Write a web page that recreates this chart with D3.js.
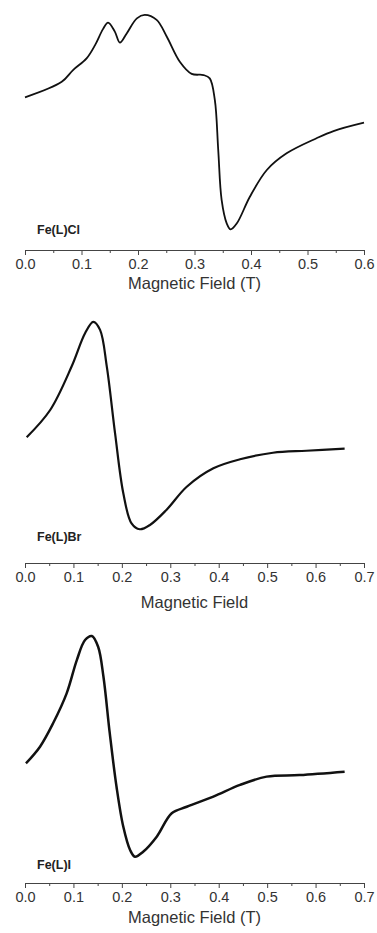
<!DOCTYPE html>
<html>
<head>
<meta charset="utf-8">
<script src="https://cdn.jsdelivr.net/npm/d3@7"></script>
<style>
  body { margin: 0; background: #fff; }
  svg { display: block; }
  .tick text { font-family: "Liberation Sans", Arial, sans-serif; }
</style>
</head>
<body>
<svg id="epr" width="377" height="933"></svg>
<script>
// field values (T) and derivative signal (arb. units, 0..100)
var clField  = [0.0, 0.065, 0.085, 0.109, 0.124, 0.138, 0.147, 0.159, 0.168, 0.18, 0.198, 0.212, 0.233, 0.251, 0.274, 0.295, 0.316, 0.327, 0.336, 0.342, 0.348, 0.357, 0.364, 0.375, 0.398, 0.428, 0.463, 0.516, 0.546, 0.6];
var clSignal = [61.2, 68.1, 73.3, 78.5, 84.4, 91.5, 94.4, 90.4, 85.5, 89.6, 96.3, 97.8, 95.6, 88.1, 77.0, 71.6, 71.1, 69.6, 60.0, 37.8, 15.6, 5.2, 2.5, 5.2, 17.0, 28.9, 36.3, 43.0, 46.2, 49.9];

var brField  = [0.0035, 0.052, 0.096, 0.124, 0.141, 0.155, 0.169, 0.186, 0.203, 0.22, 0.237, 0.258, 0.292, 0.334, 0.389, 0.444, 0.512, 0.581, 0.66];
var brSignal = [47.9, 60.0, 79.2, 94.1, 99.2, 95.6, 79.2, 49.6, 23.0, 9.6, 7.0, 8.9, 15.6, 25.9, 34.1, 38.1, 41.0, 41.9, 42.8];

var iField  = [0.002, 0.031, 0.058, 0.086, 0.107, 0.124, 0.138, 0.151, 0.162, 0.175, 0.189, 0.203, 0.217, 0.227, 0.244, 0.272, 0.303, 0.334, 0.389, 0.444, 0.499, 0.567, 0.66];
var iSignal = [47.4, 54.8, 65.2, 78.5, 93.3, 102.2, 104.0, 99.2, 85.9, 60.8, 37.0, 19.2, 8.9, 5.9, 8.1, 14.8, 25.2, 28.1, 32.6, 37.8, 41.5, 42.2, 43.7];

var ticks06 = [0, 0.1, 0.2, 0.3, 0.4, 0.5, 0.6];
var ticks07 = [0, 0.1, 0.2, 0.3, 0.4, 0.5, 0.6, 0.7];
var minor06 = [0.05, 0.15, 0.25, 0.35, 0.45, 0.55];
var minor07 = [0.05, 0.15, 0.25, 0.35, 0.45, 0.55, 0.65];

var panels = [
  {name: "Fe(L)Cl", field: clField, signal: clSignal, xmax: 0.6, ticks: ticks06, minor: minor06,
   title: "Magnetic Field (T)", axisY: 250, top: 10, bottom: 235, labelY: 234, titleY: 289, lw: 1.8},
  {name: "Fe(L)Br", field: brField, signal: brSignal, xmax: 0.7, ticks: ticks07, minor: minor07,
   title: "Magnetic Field", axisY: 563, top: 320, bottom: 545, labelY: 541, titleY: 608, lw: 2.2},
  {name: "Fe(L)I", field: iField, signal: iSignal, xmax: 0.7, ticks: ticks07, minor: minor07,
   title: "Magnetic Field (T)", axisY: 883, top: 645, bottom: 870, labelY: 869, titleY: 923, lw: 2.5}
];

var svg = d3.select("#epr");
var left = 25, right = 364;

panels.forEach(function(p){
  var x = d3.scaleLinear().domain([0, p.xmax]).range([left, right]);
  var y = d3.scaleLinear().domain([0, 100]).range([p.bottom, p.top]);
  var g = svg.append("g");

  var line = d3.line()
    .x(function(d){ return x(d[0]); })
    .y(function(d){ return y(d[1]); })
    .curve(d3.curveCatmullRom.alpha(0.5));

  g.append("path")
    .datum(d3.zip(p.field, p.signal))
    .attr("d", line)
    .attr("fill", "none")
    .attr("stroke", "#111")
    .attr("stroke-width", p.lw)
    .attr("stroke-linejoin", "round");

  // minor ticks first, then major axis with labels
  g.append("g")
    .attr("transform", "translate(0," + p.axisY + ")")
    .call(d3.axisBottom(x).tickValues(p.minor).tickSize(3).tickSizeOuter(0).tickFormat(""))
    .call(function(a){ a.select(".domain").remove(); a.selectAll("line").attr("stroke", "#444"); });

  var ax = g.append("g")
    .attr("transform", "translate(0," + p.axisY + ")")
    .call(d3.axisBottom(x).tickValues(p.ticks).tickSize(5).tickSizeOuter(0).tickFormat(d3.format(".1f")));
  ax.select(".domain").attr("stroke", "#444");
  ax.selectAll("line").attr("stroke", "#444");
  ax.selectAll("text")
    .attr("y", 9)
    .attr("font-size", 14.5)
    .attr("fill", "#333");

  g.append("text")
    .attr("x", (left + right) / 2)
    .attr("y", p.titleY)
    .attr("text-anchor", "middle")
    .attr("font-family", "Liberation Sans, Arial, sans-serif")
    .attr("font-size", 16.5)
    .attr("fill", "#333")
    .text(p.title);

  g.append("text")
    .attr("x", 37)
    .attr("y", p.labelY)
    .attr("font-family", "Liberation Sans, Arial, sans-serif")
    .attr("font-weight", "bold")
    .attr("font-size", 12.5)
    .attr("fill", "#222")
    .text(p.name);
});
</script>
</body>
</html>
